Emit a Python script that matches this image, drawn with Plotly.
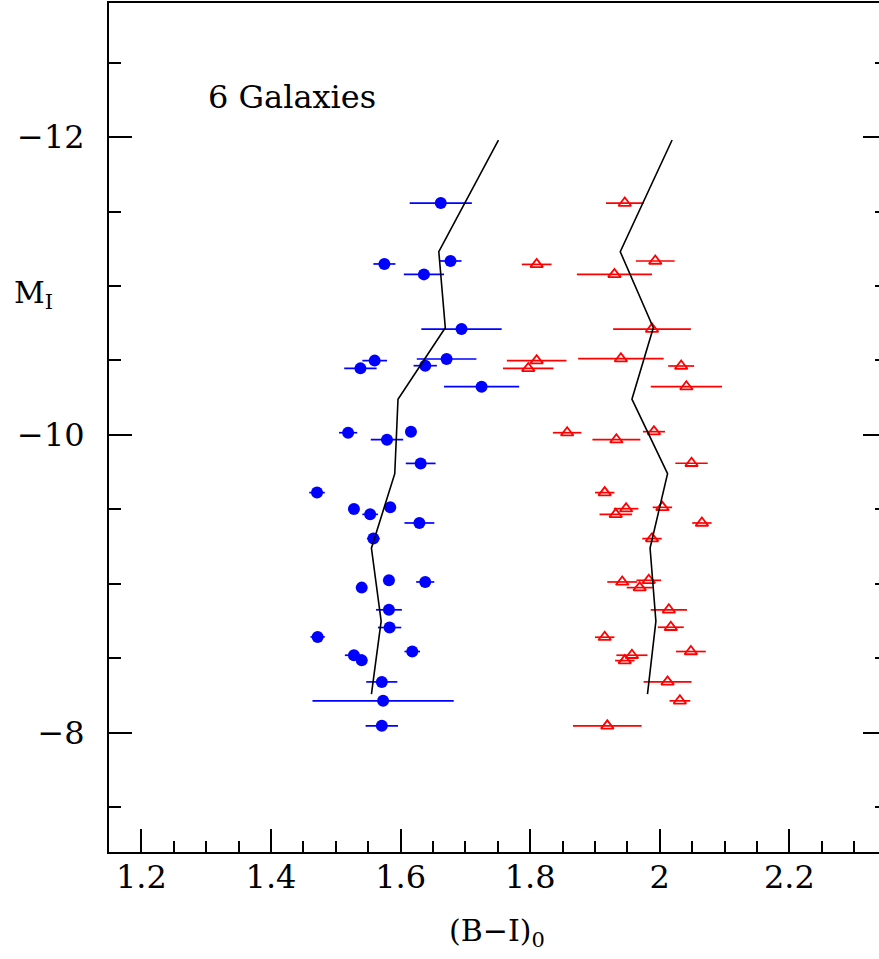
import plotly.graph_objects as go

# ---- data ----
blue_color = [1.662, 1.575, 1.677, 1.636, 1.694, 1.560, 1.538, 1.671, 1.638, 1.725, 1.519, 1.579, 1.616,
              1.631, 1.471, 1.528, 1.553, 1.584, 1.629, 1.558, 1.540, 1.582, 1.638, 1.582, 1.583, 1.472,
              1.528, 1.540, 1.618, 1.571, 1.573, 1.571]
blue_mag = [-11.557, -11.148, -11.168, -11.078, -10.711, -10.499, -10.447, -10.510, -10.465, -10.324,
            -10.015, -9.968, -10.022, -9.809, -9.613, -9.503, -9.467, -9.514, -9.409, -9.304, -8.975,
            -9.024, -9.013, -8.826, -8.707, -8.644, -8.521, -8.487, -8.546, -8.342, -8.215, -8.047]
blue_err = [0.048, 0.017, 0.017, 0.031, 0.062, 0.019, 0.025, 0.046, 0.018, 0.058, 0.014, 0.025, 0.008,
            0.023, 0.012, 0.006, 0.012, 0.006, 0.023, 0.010, 0.005, 0.006, 0.014, 0.020, 0.018, 0.011,
            0.014, 0.006, 0.012, 0.024, 0.109, 0.025]

red_color = [1.946, 1.810, 1.993, 1.930, 1.988, 1.810, 1.797, 1.940, 2.033, 2.041, 1.857, 1.933, 1.991,
             2.049, 1.915, 1.948, 1.932, 2.004, 2.065, 1.988, 1.942, 1.983, 1.969, 2.014, 2.017, 1.915,
             1.957, 1.946, 2.048, 2.012, 2.031, 1.919]
red_mag = [-11.557, -11.145, -11.168, -11.078, -10.711, -10.499, -10.447, -10.512, -10.463, -10.324,
           -10.015, -9.968, -10.022, -9.810, -9.613, -9.505, -9.467, -9.514, -9.409, -9.304, -9.013,
           -9.024, -8.975, -8.826, -8.709, -8.642, -8.521, -8.485, -8.546, -8.342, -8.215, -8.047]
red_err = [0.029, 0.023, 0.030, 0.058, 0.060, 0.046, 0.039, 0.066, 0.020, 0.055, 0.022, 0.037, 0.017,
           0.025, 0.015, 0.019, 0.025, 0.015, 0.015, 0.015, 0.023, 0.019, 0.020, 0.028, 0.020, 0.015,
           0.024, 0.015, 0.023, 0.037, 0.016, 0.053]

line_mag = [-11.98, -11.23, -10.72, -10.24, -9.74, -9.24, -8.75, -8.26]
blue_line = [1.751, 1.659, 1.669, 1.596, 1.591, 1.555, 1.570, 1.555]
red_line = [2.019, 1.939, 1.990, 1.957, 2.012, 1.985, 1.994, 1.981]

FONT = "DejaVu Serif"
FS = 32
XRANGE = [1.15, 2.3383]
YRANGE = [-7.2, -12.9]

fig = go.Figure()
fig.add_trace(go.Scatter(
    x=blue_color, y=blue_mag, mode="markers",
    marker=dict(color="#0000ff", size=12, symbol="circle", line=dict(width=0)),
    error_x=dict(type="data", array=blue_err, symmetric=True, color="#0000ff", thickness=1.7, width=0),
    showlegend=False))
fig.add_trace(go.Scatter(
    x=red_color, y=red_mag, mode="markers",
    marker=dict(color="#ff0000", size=11, symbol="triangle-up-open", line=dict(width=1.8, color="#ff0000")),
    error_x=dict(type="data", array=red_err, symmetric=True, color="#ff0000", thickness=1.7, width=0),
    showlegend=False))
fig.add_trace(go.Scatter(x=blue_line, y=line_mag, mode="lines",
                         line=dict(color="black", width=1.6), showlegend=False))
fig.add_trace(go.Scatter(x=red_line, y=line_mag, mode="lines",
                         line=dict(color="black", width=1.6), showlegend=False))
# empty trace that carries the right-hand tick axis
fig.add_trace(go.Scatter(x=[], y=[], yaxis="y2", showlegend=False, hoverinfo="skip"))

base = dict(tickcolor="black", tickwidth=1.5, showgrid=False, zeroline=False, type="linear")

fig.update_layout(
    width=879, height=959,
    margin=dict(l=109, r=0, t=3, b=107),
    plot_bgcolor="white", paper_bgcolor="white",
    xaxis=dict(range=XRANGE, tick0=1.2, dtick=0.2, ticks="inside", ticklen=23, mirror=True,
               minor=dict(dtick=0.05, tick0=1.2, ticklen=11, ticks="inside", tickcolor="black", tickwidth=1.5),
               showline=True, linecolor="black", linewidth=2, ticklabelstandoff=-4,
               tickfont=dict(family=FONT, size=FS, color="black"), **base),
    yaxis=dict(range=YRANGE, tick0=-12, dtick=2, ticks="inside", ticklen=23, mirror=False,
               minor=dict(dtick=0.5, tick0=-12, ticklen=12, ticks="inside", tickcolor="black", tickwidth=1.5),
               showline=True, linecolor="black", linewidth=2, ticklabelstandoff=16,
               tickfont=dict(family=FONT, size=FS, color="black"), **base),
    yaxis2=dict(overlaying="y", side="right", anchor="x", range=YRANGE, tick0=-12, dtick=2,
                ticks="inside", ticklen=16, showticklabels=False, showline=False, automargin=False,
                minor=dict(dtick=0.5, tick0=-12, ticklen=4, ticks="inside", tickcolor="black", tickwidth=1.5),
                **base),
    annotations=[
        dict(text="6 Galaxies", xref="paper", yref="paper", x=(206 - 109) / 770, y=(852 - 97) / 849,
             xanchor="left", yanchor="middle", showarrow=False,
             font=dict(family=FONT, size=FS, color="black")),
        dict(text="M<sub>I</sub>", xref="paper", yref="paper", x=(12 - 109) / 770, y=(852 - 294) / 849,
             xanchor="left", yanchor="middle", showarrow=False,
             font=dict(family=FONT, size=FS - 2, color="black")),
        dict(text="(B\u2212I)<sub>0</sub>", xref="paper", yref="paper", x=(497 - 109) / 770,
             y=(852 - 932) / 849, xanchor="center", yanchor="middle", showarrow=False,
             font=dict(family=FONT, size=FS - 2, color="black")),
    ],
)

fig.write_html("out.html")
